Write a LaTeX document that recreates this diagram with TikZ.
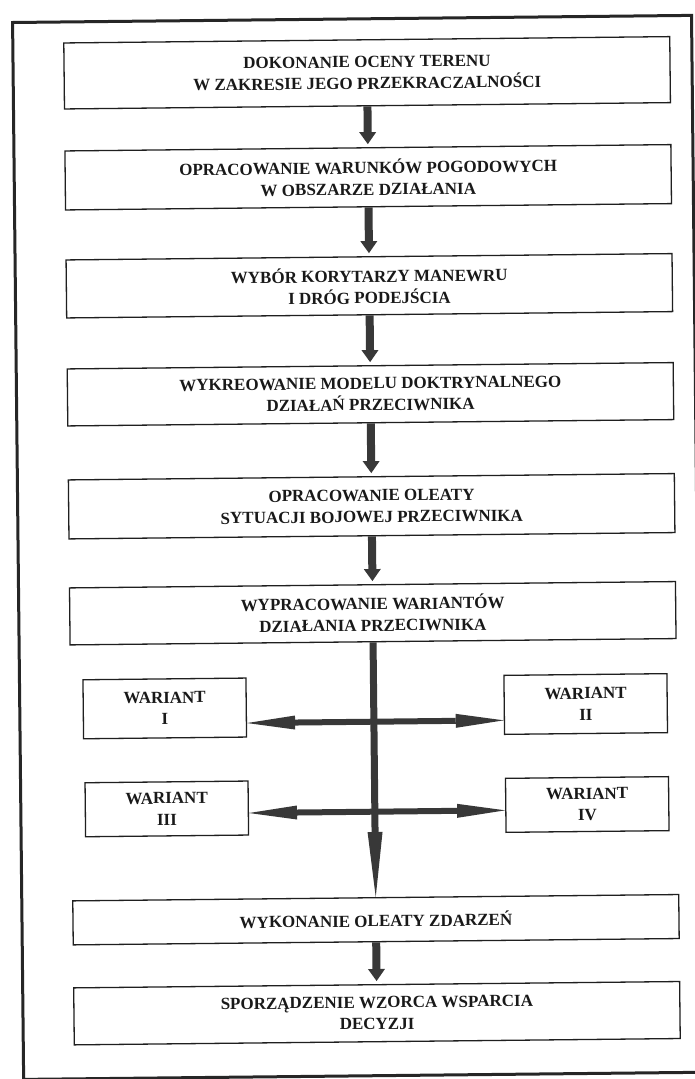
\documentclass[tikz,border=0pt]{standalone}
\usepackage{fontspec}
\setmainfont{Liberation Serif}
\usetikzlibrary{arrows.meta,calc}
\begin{document}
\begin{tikzpicture}[x=1pt,y=-1pt,
  box/.style={draw=black!88, line width=1.3pt, fill=white, inner sep=0pt, align=center,
    font=\fontsize{17}{21.5}\selectfont\bfseries, text=black!90},
  mainbox/.style={box, minimum width=606pt},
  varbox/.style={box, minimum width=163pt},
  flow/.style={draw=black!78, line width=8pt, shorten >=3pt,
    -{Triangle[length=12pt,width=17pt,line width=0pt]}},
  bigflow/.style={draw=black!78, line width=7pt,
    -{Triangle[length=65pt,width=15pt,line width=0pt]}},
  twoway/.style={draw=black!78, line width=6pt,
    {Triangle[length=48pt,width=14pt,line width=0pt]}-{Triangle[length=48pt,width=14pt,line width=0pt]}},
  frame/.style={draw=black!85, line width=3pt}
]
\fill[white] (0,0) rectangle (694,1079);
\useasboundingbox (0,0) rectangle (694,1079);
\begin{scope}[rotate around={0.6:(347,540)}, transform shape]
\draw[frame] (18,19) rectangle (697,1076);

\node[mainbox, minimum height=66pt] (b1) at (372,73)
  {DOKONANIE OCENY TERENU\\W ZAKRESIE JEGO PRZEKRACZALNOŚCI};
\node[mainbox, minimum height=59pt] (b2) at (372,177.5)
  {OPRACOWANIE WARUNKÓW POGODOWYCH\\W OBSZARZE DZIAŁANIA};
\node[mainbox, minimum height=58pt] (b3) at (372,286)
  {WYBÓR KORYTARZY MANEWRU\\I DRÓG PODEJŚCIA};
\node[mainbox, minimum height=57pt] (b4) at (372,394.5)
  {WYKREOWANIE MODELU DOKTRYNALNEGO\\DZIAŁAŃ PRZECIWNIKA};
\node[mainbox, minimum height=59pt] (b5) at (372,506.5)
  {OPRACOWANIE OLEATY\\SYTUACJI BOJOWEJ PRZECIWNIKA};
\node[mainbox, minimum height=57pt] (b6) at (372,613.5)
  {WYPRACOWANIE WARIANTÓW\\DZIAŁANIA PRZECIWNIKA};

\node[varbox, minimum height=59pt] (v1) at (163,706.5) {WARIANT\\I};
\node[varbox, minimum height=59pt] (v2) at (584,706.5) {WARIANT\\II};
\node[varbox, minimum height=54pt] (v3) at (164,807) {WARIANT\\III};
\node[varbox, minimum height=54pt] (v4) at (584.5,807) {WARIANT\\IV};

\node[mainbox, minimum height=44pt] (b7) at (372,920)
  {WYKONANIE OLEATY ZDARZEŃ};
\node[mainbox, minimum height=57pt] (b8) at (372,1013.5)
  {SPORZĄDZENIE WZORCA WSPARCIA\\DECYZJI};

\coordinate (r1) at (372,722);
\coordinate (r2) at (372,812);

\draw[flow] (b1.south) -- (b2.north);
\draw[flow] (b2.south) -- (b3.north);
\draw[flow] (b3.south) -- (b4.north);
\draw[flow] (b4.south) -- (b5.north);
\draw[flow] (b5.south) -- (b6.north);
\draw[twoway] (v1.east |- r1) -- (v2.west |- r1);
\draw[twoway] (v3.east |- r2) -- (v4.west |- r2);
\draw[bigflow] (b6.south) -- (b7.north);
\draw[flow] (b7.south) -- (b8.north);
\end{scope}
\end{tikzpicture}
\end{document}
